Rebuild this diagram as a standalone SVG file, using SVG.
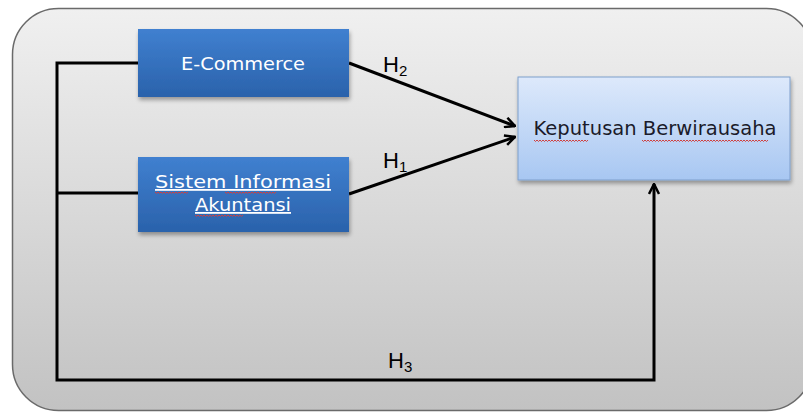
<svg xmlns="http://www.w3.org/2000/svg" width="803" height="413" viewBox="0 0 803 413">
<defs>
<linearGradient id="bg" x1="0" y1="0" x2="0" y2="1">
<stop offset="0" stop-color="#f0f0f0"/>
<stop offset="1" stop-color="#c2c2c2"/>
</linearGradient>
<linearGradient id="blue" x1="0" y1="0" x2="0" y2="1">
<stop offset="0" stop-color="#4080d0"/>
<stop offset="1" stop-color="#2a62ab"/>
</linearGradient>
<linearGradient id="light" x1="0" y1="0" x2="0" y2="1">
<stop offset="0" stop-color="#dde9fb"/>
<stop offset="1" stop-color="#a8c7f2"/>
</linearGradient>
<filter id="sh" x="-10%" y="-10%" width="130%" height="140%">
<feGaussianBlur in="SourceAlpha" stdDeviation="2"/>
<feOffset dx="1" dy="3"/>
<feComponentTransfer><feFuncA type="linear" slope="0.35"/></feComponentTransfer>
<feMerge><feMergeNode/><feMergeNode in="SourceGraphic"/></feMerge>
</filter>
<marker id="ah" viewBox="0 0 12 12" refX="11" refY="6" markerWidth="12" markerHeight="12" markerUnits="userSpaceOnUse" orient="auto">
<path d="M1,1 L11,6 L1,11" fill="none" stroke="#000" stroke-width="2.5"/>
</marker>
</defs>
<style>
.lbl{font-family:"DejaVu Sans","Liberation Sans",sans-serif;font-size:18px;text-anchor:middle}
.w{fill:#ffffff}
.d{fill:#1b1b2a}
.h{font-family:"Liberation Sans",Arial,sans-serif;font-size:22px;fill:#000}
.sub{font-size:15px}
.con{fill:none;stroke:#000;stroke-width:3}
.sq{fill:none;stroke:#d04040;stroke-width:1}
</style>
<rect x="12.5" y="8.5" width="800" height="402" rx="46" ry="46" fill="url(#bg)" stroke="#6a6a6a" stroke-width="1.5"/>
<g id="connectors">
<polyline class="con" points="138,63 57,63 57,380 654,380 654,184" marker-end="url(#ah)"/>
<line class="con" x1="57" y1="193" x2="138" y2="193"/>
<line class="con" x1="349" y1="63" x2="515" y2="126" marker-end="url(#ah)"/>
<line class="con" x1="349" y1="194" x2="515" y2="137" marker-end="url(#ah)"/>
<text class="h" x="383" y="72">H<tspan class="sub" dy="4">2</tspan></text>
<text class="h" x="383" y="168">H<tspan class="sub" dy="4">1</tspan></text>
<text class="h" x="388" y="368">H<tspan class="sub" dy="4">3</tspan></text>
</g>
<g id="ecommerce">
<rect x="138" y="29" width="211" height="68" fill="url(#blue)" filter="url(#sh)"/>
<text class="lbl w" x="243" y="70" textLength="124" lengthAdjust="spacingAndGlyphs">E-Commerce</text>
</g>
<g id="sistem">
<rect x="138" y="157" width="211" height="75" fill="url(#blue)" filter="url(#sh)"/>
<text class="lbl w" x="243" y="188" textLength="176" lengthAdjust="spacingAndGlyphs" text-decoration="underline">Sistem Informasi</text>
<text class="lbl w" x="243" y="211" textLength="96" lengthAdjust="spacingAndGlyphs" text-decoration="underline">Akuntansi</text>
<path class="sq" d="M155,192 l1.5,1.5 l1.5,-1.5 l1.5,1.5 l1.5,-1.5 l1.5,1.5 l1.5,-1.5 l1.5,1.5 l1.5,-1.5 l1.5,1.5 l1.5,-1.5 l1.5,1.5 l1.5,-1.5 l1.5,1.5 l1.5,-1.5 l1.5,1.5 l1.5,-1.5 l1.5,1.5 l1.5,-1.5 l1.5,1.5 l1.5,-1.5 l1.5,1.5 l1.5,-1.5"/>
<path class="sq" d="M225,192 l1.5,1.5 l1.5,-1.5 l1.5,1.5 l1.5,-1.5 l1.5,1.5 l1.5,-1.5 l1.5,1.5 l1.5,-1.5 l1.5,1.5 l1.5,-1.5 l1.5,1.5 l1.5,-1.5 l1.5,1.5 l1.5,-1.5 l1.5,1.5 l1.5,-1.5 l1.5,1.5 l1.5,-1.5 l1.5,1.5 l1.5,-1.5 l1.5,1.5 l1.5,-1.5 l1.5,1.5 l1.5,-1.5 l1.5,1.5 l1.5,-1.5 l1.5,1.5 l1.5,-1.5 l1.5,1.5 l1.5,-1.5 l1.5,1.5 l1.5,-1.5 l1.5,1.5 l1.5,-1.5"/>
<path class="sq" d="M195,215 l1.5,1.5 l1.5,-1.5 l1.5,1.5 l1.5,-1.5 l1.5,1.5 l1.5,-1.5 l1.5,1.5 l1.5,-1.5 l1.5,1.5 l1.5,-1.5 l1.5,1.5 l1.5,-1.5 l1.5,1.5 l1.5,-1.5 l1.5,1.5 l1.5,-1.5 l1.5,1.5 l1.5,-1.5 l1.5,1.5 l1.5,-1.5 l1.5,1.5 l1.5,-1.5 l1.5,1.5 l1.5,-1.5 l1.5,1.5 l1.5,-1.5 l1.5,1.5 l1.5,-1.5 l1.5,1.5 l1.5,-1.5 l1.5,1.5 l1.5,-1.5"/>
</g>
<g id="keputusan">
<rect x="518" y="77" width="272" height="103" fill="url(#light)" stroke="#7f9fcc" stroke-width="1" filter="url(#sh)"/>
<text class="lbl d" x="655" y="135" font-size="20" textLength="243" lengthAdjust="spacingAndGlyphs" style="font-size:20px">Keputusan Berwirausaha</text>
<path class="sq" d="M534,140 l1.5,1.5 l1.5,-1.5 l1.5,1.5 l1.5,-1.5 l1.5,1.5 l1.5,-1.5 l1.5,1.5 l1.5,-1.5 l1.5,1.5 l1.5,-1.5 l1.5,1.5 l1.5,-1.5 l1.5,1.5 l1.5,-1.5 l1.5,1.5 l1.5,-1.5 l1.5,1.5 l1.5,-1.5 l1.5,1.5 l1.5,-1.5 l1.5,1.5 l1.5,-1.5 l1.5,1.5 l1.5,-1.5 l1.5,1.5 l1.5,-1.5 l1.5,1.5 l1.5,-1.5 l1.5,1.5 l1.5,-1.5 l1.5,1.5 l1.5,-1.5 l1.5,1.5 l1.5,-1.5 l1.5,1.5 l1.5,-1.5"/>
<path class="sq" d="M642,140 l1.5,1.5 l1.5,-1.5 l1.5,1.5 l1.5,-1.5 l1.5,1.5 l1.5,-1.5 l1.5,1.5 l1.5,-1.5 l1.5,1.5 l1.5,-1.5 l1.5,1.5 l1.5,-1.5 l1.5,1.5 l1.5,-1.5 l1.5,1.5 l1.5,-1.5 l1.5,1.5 l1.5,-1.5 l1.5,1.5 l1.5,-1.5 l1.5,1.5 l1.5,-1.5 l1.5,1.5 l1.5,-1.5 l1.5,1.5 l1.5,-1.5 l1.5,1.5 l1.5,-1.5 l1.5,1.5 l1.5,-1.5 l1.5,1.5 l1.5,-1.5 l1.5,1.5 l1.5,-1.5 l1.5,1.5 l1.5,-1.5 l1.5,1.5 l1.5,-1.5 l1.5,1.5 l1.5,-1.5 l1.5,1.5 l1.5,-1.5 l1.5,1.5 l1.5,-1.5 l1.5,1.5 l1.5,-1.5 l1.5,1.5 l1.5,-1.5 l1.5,1.5 l1.5,-1.5 l1.5,1.5 l1.5,-1.5 l1.5,1.5 l1.5,-1.5 l1.5,1.5 l1.5,-1.5 l1.5,1.5 l1.5,-1.5 l1.5,1.5 l1.5,-1.5 l1.5,1.5 l1.5,-1.5 l1.5,1.5 l1.5,-1.5 l1.5,1.5 l1.5,-1.5 l1.5,1.5 l1.5,-1.5 l1.5,1.5 l1.5,-1.5 l1.5,1.5 l1.5,-1.5 l1.5,1.5 l1.5,-1.5 l1.5,1.5 l1.5,-1.5 l1.5,1.5 l1.5,-1.5 l1.5,1.5 l1.5,-1.5 l1.5,1.5 l1.5,-1.5 l1.5,1.5 l1.5,-1.5"/>
</g>
</svg>
